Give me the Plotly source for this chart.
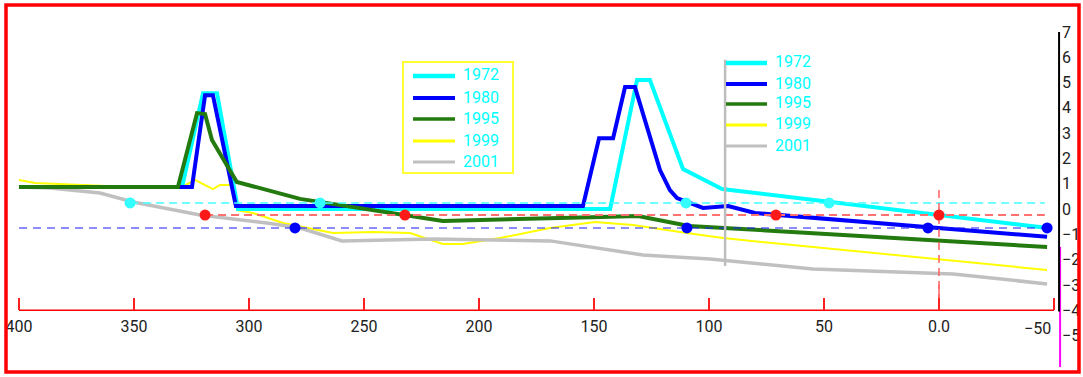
import plotly.graph_objects as go

# ---------------- data ----------------
years = ["1972", "1980", "1995", "1999", "2001"]
colors = ["#00ffff", "#0000ff", "#237a0e", "#ffff00", "#c0c0c0"]
widths = [4, 4, 4, 2, 3.5]

x_1972 = [400, 329.1, 320.0, 313.9, 304.8, 143.0, 131.3, 125.7, 111.3, 94.3, -47.4]
y_1972 = [0.87, 0.87, 4.58, 4.58, 0.0, 0.0, 5.1, 5.1, 1.58, 0.79, -0.75]

x_1980 = [400, 324.8, 319.1, 315.7, 305.7, 154.8, 147.8, 141.7, 136.5, 132.2,
          121.3, 117.0, 113.9, 102.6, 91.7, 80.0, -47.0]
y_1980 = [0.87, 0.87, 4.5, 4.5, 0.12, 0.12, 2.8, 2.8, 4.82, 4.82,
          1.54, 0.75, 0.43, 0.04, 0.12, -0.16, -1.1]

x_1995 = [400, 330.9, 322.6, 319.1, 316.1, 305.3, 277.8, 232.2, 215.7, 147.0,
          130.9, 108.7, 64.8, -47.0]
y_1995 = [0.87, 0.87, 3.79, 3.75, 2.73, 1.07, 0.40, -0.24, -0.47, -0.32,
          -0.28, -0.67, -0.91, -1.50]

x_1999 = [400, 393.0, 351.7, 329.1, 323.5, 315.7, 312.6, 307.4, 305.2, 298.3,
          285.2, 263.5, 246.1, 230.0, 215.7, 207.0, 190.9, 169.1, 149.6, 133.0,
          109.6, 93.9, -47.0]
y_1999 = [1.15, 1.03, 0.87, 0.87, 1.15, 0.79, 0.95, 0.95, -0.04, -0.16,
          -0.55, -0.95, -0.91, -0.95, -1.38, -1.38, -1.15, -0.75, -0.51, -0.63,
          -0.95, -1.15, -2.41]

x_2001 = [400, 386.5, 364.8, 350.4, 321.3, 292.2, 277.8, 259.6, 220.0, 169.1,
          128.7, 99.6, 54.8, -6.1, -47.0]
y_2001 = [0.87, 0.83, 0.63, 0.28, -0.24, -0.55, -0.75, -1.26, -1.19, -1.26,
          -1.82, -1.98, -2.37, -2.57, -2.96]

series_x = [x_1972, x_1980, x_1995, x_1999, x_2001]
series_y = [y_1972, y_1980, y_1995, y_1999, y_2001]

# reference levels and their points
cyan_level, red_level, navy_level = 0.24, -0.24, -0.75
cyan_pts = [351.7, 269.1, 110.0, 47.8]
red_pts = [319.1, 232.2, 70.9, 0.0]
navy_pts = [280.0, 109.6, 4.8, -47.0]

x_ticks = [400, 350, 300, 250, 200, 150, 100, 50, 0, -50]
x_ticktext = ["400", "350", "300", "250", "200", "150", "100", "50", "0.0", ""]
last_tick_label = "\u221250"
y_ticks = [-5, -4, -3, -2, -1, 0, 1, 2, 3, 4, 5, 6, 7]

# ---------------- figure ----------------
W, H = 1083, 377
FONT = "Roboto, Liberation Sans, DejaVu Sans, sans-serif"


def px(xp):
    return xp / W


def py(yp):
    return 1 - yp / H


fig = go.Figure()

# data series (draw order similar to reference)
order = [3, 4, 0, 1, 2]
for i in order:
    fig.add_trace(go.Scatter(x=series_x[i], y=series_y[i], mode="lines",
                             line=dict(color=colors[i], width=widths[i]),
                             name=years[i], showlegend=False, hoverinfo="skip"))

# dashed reference lines
fig.add_trace(go.Scatter(x=[351.7, -46], y=[cyan_level, cyan_level], mode="lines",
                         line=dict(color="#40ffff", width=1.5, dash="8px,5px"),
                         showlegend=False, hoverinfo="skip"))
fig.add_trace(go.Scatter(x=[319.1, -46], y=[red_level, red_level], mode="lines",
                         line=dict(color="#ff7070", width=2, dash="8px,5px"),
                         showlegend=False, hoverinfo="skip"))
fig.add_trace(go.Scatter(x=[400, -46], y=[navy_level, navy_level], mode="lines",
                         line=dict(color="#1a1aff", width=1.2, dash="8px,6px"),
                         showlegend=False, hoverinfo="skip"))

# vertical guides
fig.add_trace(go.Scatter(x=[93.0, 93.0], y=[5.9, -2.25], mode="lines",
                         line=dict(color="#bdbdbd", width=2.5),
                         showlegend=False, hoverinfo="skip"))
fig.add_trace(go.Scatter(x=[0, 0], y=[0.75, -3.6], mode="lines",
                         line=dict(color="#ff6060", width=1.5, dash="8px,5px"),
                         showlegend=False, hoverinfo="skip"))

# markers
fig.add_trace(go.Scatter(x=cyan_pts, y=[cyan_level] * len(cyan_pts), mode="markers",
                         marker=dict(color="#33ffff", size=11), cliponaxis=False,
                         showlegend=False, hoverinfo="skip"))
fig.add_trace(go.Scatter(x=red_pts, y=[red_level] * len(red_pts), mode="markers",
                         marker=dict(color="#ff1a1a", size=11), cliponaxis=False,
                         showlegend=False, hoverinfo="skip"))
fig.add_trace(go.Scatter(x=navy_pts, y=[navy_level] * len(navy_pts), mode="markers",
                         marker=dict(color="#0000ff", size=11), cliponaxis=False,
                         showlegend=False, hoverinfo="skip"))

# bottom scale line (at y=-4) from 400 to -50
fig.add_trace(go.Scatter(x=[400, -50], y=[-4, -4], mode="lines",
                         line=dict(color="#ff0000", width=1.5),
                         showlegend=False, hoverinfo="skip"))
fig.add_trace(go.Scatter(x=[0, 0], y=[-3.0, -4], mode="lines",
                         line=dict(color="#ff6060", width=1.5),
                         showlegend=False, hoverinfo="skip"))

shapes = []
annotations = []

# last x tick label, set just left of its tick as in the reference
annotations.append(dict(xref="x", yref="y", x=-50, y=-4, xshift=-1, yshift=-18,
                        text=last_tick_label, showarrow=False,
                        xanchor="right", yanchor="middle",
                        font=dict(family=FONT, size=16, color="#222222")))

# right vertical scale line
shapes.append(dict(type="line", xref="x", yref="y", x0=-52.65, x1=-52.65, y0=-1.5, y1=-6.25,
                   line=dict(color="#ff00ff", width=2)))
shapes.append(dict(type="line", xref="x", yref="y", x0=-52.2, x1=-52.2, y0=7, y1=-4.05,
                   line=dict(color="#000000", width=2)))

# outer red frame
shapes.append(dict(type="rect", xref="paper", yref="paper",
                   x0=px(6), x1=px(1079), y0=py(372), y1=py(5),
                   line=dict(color="#ff0000", width=3.5)))

# legend 1 (boxed)
shapes.append(dict(type="rect", xref="paper", yref="paper",
                   x0=px(403), x1=px(513), y0=py(173), y1=py(62),
                   line=dict(color="#ffff33", width=2)))
leg1_rows = [76, 98, 119, 141, 162]
leg_w1 = [4.5, 4, 3.5, 3, 3]
for i, r in enumerate(leg1_rows):
    shapes.append(dict(type="line", xref="paper", yref="paper",
                       x0=px(413), x1=px(455), y0=py(r), y1=py(r),
                       line=dict(color=colors[i], width=leg_w1[i])))
    annotations.append(dict(xref="paper", yref="paper", x=px(461), y=py(r - 1),
                            text=years[i], showarrow=False, xanchor="left", yanchor="middle",
                            font=dict(family=FONT, size=16, color="#00ffff")))

# legend 2 (no box)
leg2_rows = [63, 84, 104, 125, 146]
for i, r in enumerate(leg2_rows):
    shapes.append(dict(type="line", xref="paper", yref="paper",
                       x0=px(726), x1=px(767), y0=py(r), y1=py(r),
                       line=dict(color=colors[i], width=leg_w1[i])))
    annotations.append(dict(xref="paper", yref="paper", x=px(773), y=py(r - 1),
                            text=years[i], showarrow=False, xanchor="left", yanchor="middle",
                            font=dict(family=FONT, size=16, color="#00ffff")))

fig.update_layout(
    width=W, height=H, autosize=False,
    margin=dict(l=0, r=0, t=0, b=0, pad=0),
    paper_bgcolor="white", plot_bgcolor="white",
    showlegend=False,
    shapes=shapes, annotations=annotations,
    xaxis=dict(range=[408.26, -62.61], domain=[0, 1], showgrid=False, zeroline=False,
               showline=False, anchor="free", position=py(309.5),
               tickmode="array", tickvals=x_ticks, ticktext=x_ticktext,
               ticks="inside", ticklen=12, tickwidth=1.5, tickcolor="#ff2020",
               ticklabelstandoff=5,
               tickfont=dict(family=FONT, size=16, color="#222222"), automargin=False),
    yaxis=dict(range=[-6.640, 8.261], domain=[0, 1], showgrid=False, zeroline=False,
               showline=False, side="right", anchor="free", position=px(1061),
               tickmode="array", tickvals=y_ticks, ticks="",
               tickfont=dict(family=FONT, size=16, color="#222222"), automargin=False),
)

fig.write_html("out.html", config={"displayModeBar": False},
               post_script="document.body.style.margin='0';document.body.style.padding='0';")
